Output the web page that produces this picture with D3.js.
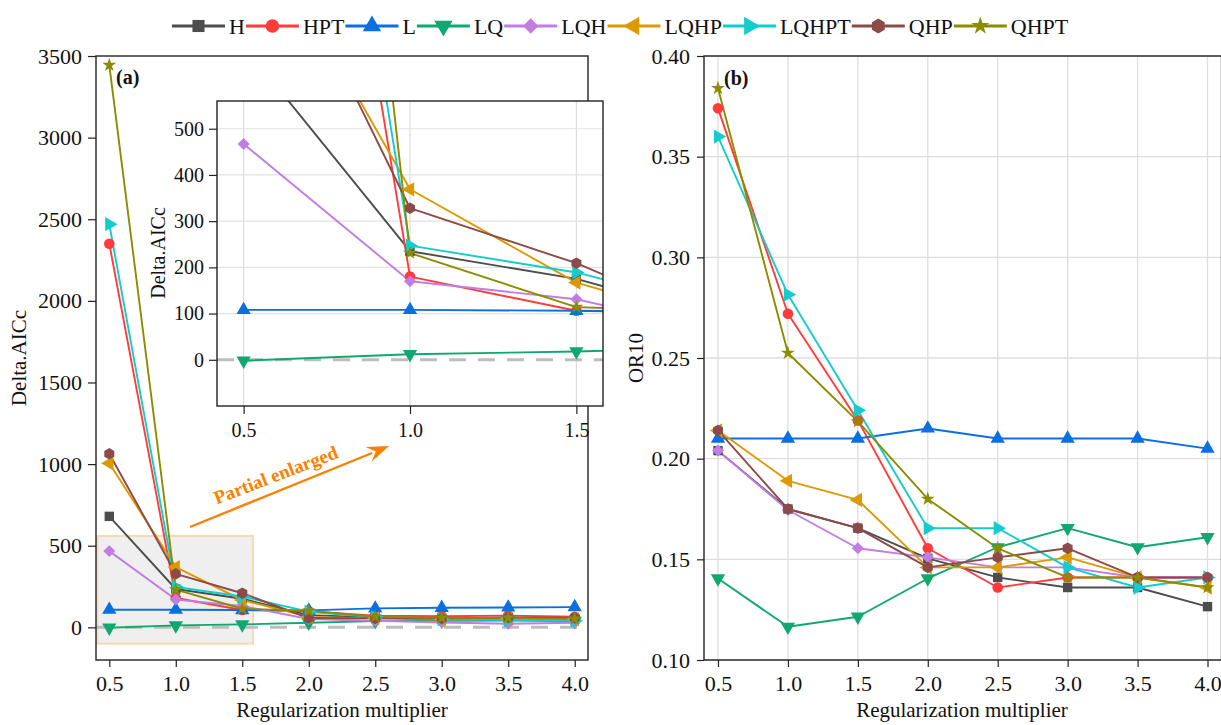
<!DOCTYPE html>
<html><head><meta charset="utf-8">
<script src="https://cdn.jsdelivr.net/npm/d3@7"></script>
<style>
body{margin:0;background:#fff}
svg{display:block}
text{font-family:"Liberation Serif","Times New Roman",serif;fill:#111}
</style>
</head><body>
<svg id="c" width="1221" height="725"></svg>
<script>
// ---------- data ----------
const xValues = [0.5, 1.0, 1.5, 2.0, 2.5, 3.0, 3.5, 4.0];
const seriesNames = ["H", "HPT", "L", "LQ", "LQH", "LQHP", "LQHPT", "QHP", "QHPT"];
const seriesColors = ["#4d4d4d", "#ff3b3b", "#0a6fe0", "#10a870", "#c27ce3", "#dc9a00", "#14cccc", "#8c4a48", "#8c8c00"];
const seriesMarkers = ["square", "circle", "triUp", "triDown", "diamond", "triLeft", "triRight", "hexagon", "star"];

// Delta.AICc (panel a)
const aiccH     = [680, 235, 175, 75, 60, 55, 55, 50];
const aiccHPT   = [2350, 180, 106, 98, 72, 68, 72, 65];
const aiccL     = [108, 108, 106, 104, 116, 120, 122, 124];
const aiccLQ    = [-2, 12, 18, 28, 38, 40, 42, 38];
const aiccLQH   = [467, 170, 131, 51, 40, 30, 22, 28];
const aiccLQHP  = [1005, 369, 167, 64, 55, 48, 52, 50];
const aiccLQHPT = [2470, 247, 189, 96, 62, 50, 45, 40];
const aiccQHP   = [1063, 328, 209, 57, 55, 55, 60, 58];
const aiccQHPT  = [3444, 231, 114, 102, 65, 58, 58, 52];

// OR10 (panel b)
const orH     = [0.204, 0.175, 0.1655, 0.1505, 0.141, 0.136, 0.136, 0.1265];
const orHPT   = [0.374, 0.272, 0.219, 0.1555, 0.136, 0.141, 0.141, 0.141];
const orL     = [0.210, 0.210, 0.210, 0.215, 0.210, 0.210, 0.210, 0.205];
const orLQ    = [0.1405, 0.1165, 0.1215, 0.1405, 0.156, 0.1655, 0.156, 0.161];
const orLQH   = [0.204, 0.1745, 0.1555, 0.151, 0.146, 0.146, 0.141, 0.141];
const orLQHP  = [0.214, 0.189, 0.1795, 0.146, 0.146, 0.151, 0.141, 0.136];
const orLQHPT = [0.360, 0.2815, 0.224, 0.1655, 0.1655, 0.146, 0.136, 0.141];
const orQHP   = [0.214, 0.175, 0.1655, 0.146, 0.151, 0.1555, 0.141, 0.141];
const orQHPT  = [0.384, 0.2525, 0.2185, 0.18, 0.1555, 0.141, 0.141, 0.136];

const aiccTicks = [0, 500, 1000, 1500, 2000, 2500, 3000, 3500];
const insetYTicks = [0, 100, 200, 300, 400, 500];
const insetXTicks = [0.5, 1.0, 1.5];
const orTicks = [0.10, 0.15, 0.20, 0.25, 0.30, 0.35, 0.40];

const aiccData = [aiccH, aiccHPT, aiccL, aiccLQ, aiccLQH, aiccLQHP, aiccLQHPT, aiccQHP, aiccQHPT];
const orData = [orH, orHPT, orL, orLQ, orLQH, orLQHP, orLQHPT, orQHP, orQHPT];
const series = seriesNames.map((n, i) => ({
  name: n, color: seriesColors[i], marker: seriesMarkers[i],
  aicc: xValues.map((x, j) => ({x, y: aiccData[i][j]})),
  or: xValues.map((x, j) => ({x, y: orData[i][j]}))
}));

// ---------- helpers ----------
const svg = d3.select("#c");
const FRAME = "#222";

function markerPath(type, s) {
  const area = s * s;
  switch (type) {
    case "square": return {d: d3.symbol(d3.symbolSquare, area * 0.8)(), rot: 0};
    case "circle": return {d: d3.symbol(d3.symbolCircle, area * 0.8)(), rot: 0};
    case "triUp": return {d: d3.symbol(d3.symbolTriangle, area * 0.8)(), rot: 0};
    case "triDown": return {d: d3.symbol(d3.symbolTriangle, area * 0.8)(), rot: 180};
    case "triLeft": return {d: d3.symbol(d3.symbolTriangle, area * 0.8)(), rot: -90};
    case "triRight": return {d: d3.symbol(d3.symbolTriangle, area * 0.8)(), rot: 90};
    case "diamond": return {d: d3.symbol(d3.symbolSquare, area * 0.65)(), rot: 45};
    case "star": return {d: d3.symbol(d3.symbolStar, area * 0.55)(), rot: 0};
    case "hexagon": {
      const r = s * 0.55;
      const pts = d3.range(6).map(k => {
        const a = Math.PI / 6 + k * Math.PI / 3;
        return [r * Math.cos(a), r * Math.sin(a)];
      });
      return {d: "M" + pts.map(p => p.join(",")).join("L") + "Z", rot: 0};
    }
  }
}

function drawSeries(g, sx, sy, key, msize, clipId) {
  const line = d3.line().x(d => sx(d.x)).y(d => sy(d.y));
  const lg = g.append("g");
  if (clipId) lg.attr("clip-path", `url(#${clipId})`);
  series.forEach(s => {
    lg.append("path").datum(s[key]).attr("d", line)
      .attr("fill", "none").attr("stroke", s.color).attr("stroke-width", 1.9)
      .attr("stroke-linejoin", "round");
  });
  series.forEach(s => {
    const m = markerPath(s.marker, msize);
    lg.selectAll(null).data(s[key]).enter().append("path")
      .attr("d", m.d)
      .attr("transform", d => `translate(${sx(d.x)},${sy(d.y)}) rotate(${m.rot})`)
      .attr("fill", s.color);
  });
}

function styleAxis(g, fontSize) {
  g.attr("font-family", null);
  g.select(".domain").remove();
  g.selectAll(".tick line").attr("stroke", FRAME).attr("stroke-width", 1.2);
  g.selectAll(".tick text").attr("font-size", fontSize)
    .style("font-family", '"Liberation Serif","Times New Roman",serif').attr("fill", "#111");
}

// ---------- panel (a) ----------
const ax = d3.scaleLinear().domain([0.4, 4.1]).range([96, 588]);
const ay = d3.scaleLinear().domain([-200, 3500]).range([660, 56]);
const pa = svg.append("g");

pa.append("rect")
  .attr("x", ax(0.41)).attr("y", ay(560))
  .attr("width", ax(1.58) - ax(0.41)).attr("height", ay(-100) - ay(560))
  .attr("fill", "#efefef").attr("stroke", "#fcd8b2").attr("stroke-width", 2);

pa.append("line").attr("x1", ax(0.4)).attr("x2", ax(4.1)).attr("y1", ay(0)).attr("y2", ay(0))
  .attr("stroke", "#bdbdbd").attr("stroke-width", 3).attr("stroke-dasharray", "17,12");

svg.append("defs").append("clipPath").attr("id", "clipA")
  .append("rect").attr("x", 96).attr("y", 56).attr("width", 492).attr("height", 604);
drawSeries(pa, ax, ay, "aicc", 10.5, "clipA");

pa.append("rect").attr("x", 96).attr("y", 56).attr("width", 492).attr("height", 604)
  .attr("fill", "none").attr("stroke", FRAME).attr("stroke-width", 1.4);

styleAxis(pa.append("g").attr("transform", "translate(96,0)")
  .call(d3.axisLeft(ay).tickValues(aiccTicks).tickFormat(d3.format("d")).tickSize(8).tickPadding(6)), 22);
styleAxis(pa.append("g").attr("transform", "translate(0,660)")
  .call(d3.axisBottom(ax).tickValues(xValues).tickFormat(d3.format(".1f")).tickSize(7).tickPadding(8)), 22);

pa.append("text").attr("x", 342).attr("y", 717).attr("text-anchor", "middle")
  .attr("font-size", 21).text("Regularization multiplier");
pa.append("text").attr("transform", "translate(26,358) rotate(-90)").attr("text-anchor", "middle")
  .attr("font-size", 21).text("Delta.AICc");
pa.append("text").attr("x", 116).attr("y", 84).attr("font-size", 20).attr("font-weight", "bold").text("(a)");

const arrowColor = "#ff8000";
pa.append("line").attr("x1", 190).attr("y1", 527).attr("x2", 372).attr("y2", 453)
  .attr("stroke", arrowColor).attr("stroke-width", 2.4);
{
  const tip = [389, 446], ang = Math.atan2(446 - 527, 389 - 190);
  const L = 22, W = 8;
  const bx0 = tip[0] - L * Math.cos(ang), by0 = tip[1] - L * Math.sin(ang);
  const px = -Math.sin(ang) * W, py = Math.cos(ang) * W;
  pa.append("path")
    .attr("d", `M${tip[0]},${tip[1]}L${bx0 + px},${by0 + py}L${bx0 + 0.35 * L * Math.cos(ang)},${by0 + 0.35 * L * Math.sin(ang)}L${bx0 - px},${by0 - py}Z`)
    .attr("fill", arrowColor);
}
pa.append("text").attr("transform", "translate(278,481) rotate(-21)").attr("text-anchor", "middle")
  .attr("font-size", 19).attr("font-weight", "bold").style("fill", arrowColor).text("Partial enlarged");

// ---------- inset ----------
const ix = d3.scaleLinear().domain([0.42, 1.58]).range([217, 603]);
const iy = d3.scaleLinear().domain([-100, 560]).range([406, 101]);
const ig = svg.append("g");
ig.append("rect").attr("x", 217).attr("y", 101).attr("width", 386).attr("height", 305).attr("fill", "#fff");
insetXTicks.forEach(t => ig.append("line").attr("x1", ix(t)).attr("x2", ix(t)).attr("y1", 101).attr("y2", 406)
  .attr("stroke", "#dcdcdc").attr("stroke-width", 1.2));
insetYTicks.forEach(t => { if (t !== 0) ig.append("line").attr("x1", 217).attr("x2", 603).attr("y1", iy(t)).attr("y2", iy(t))
  .attr("stroke", "#e2e2e2").attr("stroke-width", 1.2); });
ig.append("line").attr("x1", 217).attr("x2", 603).attr("y1", iy(0)).attr("y2", iy(0))
  .attr("stroke", "#bdbdbd").attr("stroke-width", 3).attr("stroke-dasharray", "17,12");
svg.select("defs").append("clipPath").attr("id", "clipI")
  .append("rect").attr("x", 217).attr("y", 101).attr("width", 386).attr("height", 305);
drawSeries(ig, ix, iy, "aicc", 10.5, "clipI");
ig.append("rect").attr("x", 217).attr("y", 101).attr("width", 386).attr("height", 305)
  .attr("fill", "none").attr("stroke", FRAME).attr("stroke-width", 1.4);
styleAxis(ig.append("g").attr("transform", "translate(217,0)")
  .call(d3.axisLeft(iy).tickValues(insetYTicks).tickFormat(d3.format("d")).tickSize(8).tickPadding(5)), 20);
styleAxis(ig.append("g").attr("transform", "translate(0,406)")
  .call(d3.axisBottom(ix).tickValues(insetXTicks).tickFormat(d3.format(".1f")).tickSize(8).tickPadding(9)), 20);
ig.append("text").attr("transform", "translate(165,253) rotate(-90)").attr("text-anchor", "middle")
  .attr("font-size", 20).text("Delta.AICc");

// ---------- panel (b) ----------
const bx = d3.scaleLinear().domain([0.4, 4.1]).range([704, 1221.5]);
const by = d3.scaleLinear().domain([0.10, 0.40]).range([660, 56]);
const pb = svg.append("g");
xValues.forEach(t => pb.append("line").attr("x1", bx(t)).attr("x2", bx(t)).attr("y1", 56).attr("y2", 660)
  .attr("stroke", "#dedede").attr("stroke-width", 1.3));
orTicks.forEach(t => pb.append("line").attr("x1", 704).attr("x2", 1221.5).attr("y1", by(t)).attr("y2", by(t))
  .attr("stroke", "#dedede").attr("stroke-width", 1.3));
svg.select("defs").append("clipPath").attr("id", "clipB")
  .append("rect").attr("x", 704).attr("y", 56).attr("width", 520).attr("height", 604);
drawSeries(pb, bx, by, "or", 10.5, "clipB");
pb.append("rect").attr("x", 704).attr("y", 56).attr("width", 517.5).attr("height", 604)
  .attr("fill", "none").attr("stroke", FRAME).attr("stroke-width", 1.4);
styleAxis(pb.append("g").attr("transform", "translate(704,0)")
  .call(d3.axisLeft(by).tickValues(orTicks).tickFormat(d3.format(".2f")).tickSize(7).tickPadding(7)), 22);
styleAxis(pb.append("g").attr("transform", "translate(0,660)")
  .call(d3.axisBottom(bx).tickValues(xValues).tickFormat(d3.format(".1f")).tickSize(7).tickPadding(8)), 22);
pb.append("text").attr("x", 962).attr("y", 717).attr("text-anchor", "middle")
  .attr("font-size", 21).text("Regularization multiplier");
pb.append("text").attr("transform", "translate(643,358) rotate(-90)").attr("text-anchor", "middle")
  .attr("font-size", 21).text("OR10");
pb.append("text").attr("x", 724).attr("y", 85).attr("font-size", 20).attr("font-weight", "bold").text("(b)");

// ---------- legend ----------
const lg = svg.append("g");
let cx = 172;
const ly = 26;
series.forEach(s => {
  lg.append("line").attr("x1", cx).attr("x2", cx + 53).attr("y1", ly).attr("y2", ly)
    .attr("stroke", s.color).attr("stroke-width", 3);
  const m = markerPath(s.marker, 13.5);
  lg.append("path").attr("d", m.d).attr("transform", `translate(${cx + 26.5},${ly}) rotate(${m.rot})`).attr("fill", s.color);
  const t = lg.append("text").attr("x", cx + 57).attr("y", ly).attr("dy", "0.35em")
    .attr("font-size", 22).text(s.name);
  cx = cx + 57 + t.node().getComputedTextLength() + 1;
});
</script>
</body></html>
